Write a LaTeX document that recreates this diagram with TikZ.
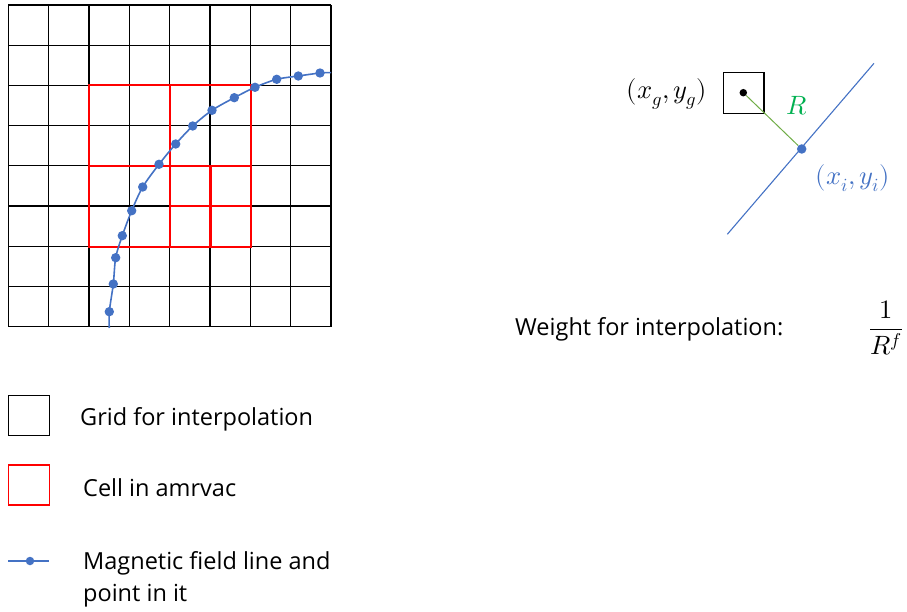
\documentclass[tikz,border=0pt]{standalone}
\usepackage{amsmath}
\usepackage{unicode-math}
\setmainfont{Open Sans}
\setmathfont{Latin Modern Math}
\definecolor{fblue}{HTML}{4472C4}
\definecolor{cred}{HTML}{FF0000}
\definecolor{rgreen}{HTML}{70AD47}
\definecolor{lgreen}{HTML}{00B050}
\begin{document}
\begin{tikzpicture}[x=1pt,y=-1pt,
  gridline/.style={black, line width=1.2pt},
  cellline/.style={cred, line width=2.1pt},
  fieldline/.style={fblue, line width=1.6pt},
  fdot/.style={circle, fill=fblue, inner sep=0pt, minimum size=9.4pt},
  lbl/.style={anchor=west, inner sep=0pt, font=\fontsize{23.5}{32}\selectfont},
  mth/.style={inner sep=0pt, font=\fontsize{26.5}{30}\selectfont}]
\useasboundingbox (0,0) rectangle (907,612);
% grid
\foreach \i in {0,...,8} {
  \draw[gridline] ({8.3+40.34*\i},5) -- ({8.3+40.34*\i},326.7);
  \draw[gridline] (8.3,{5+40.21*\i}) -- (331,{5+40.21*\i});
}
% amrvac cells
\draw[cellline] (89.0,85.4) rectangle (251.0,246.6);
\draw[cellline] (170.0,85.4) -- (170.0,246.6);
\draw[cellline] (89.0,166.0) -- (251.0,166.0);
\draw[cellline] (210.5,166.0) -- (210.5,246.6);
\draw[cellline] (170.0,206.3) -- (251.0,206.3);
% field line
\draw[fieldline] plot[smooth, tension=0.5] coordinates {(109.3,328) (109.3,311.7) (113.3,284) (115.7,257.7) (122.3,235.7) (131.7,210.7) (142.7,187) (159,164.3) (175.7,144) (192.7,126) (212,110.3) (234.3,97.7) (255,87.3) (276.7,79.3) (298.3,76) (320,73) (331,72.6)};
\foreach \p [count=\k] in {(109.3,311.7),(113.3,284),(115.7,257.7),(122.3,235.7),(131.7,210.7),(142.7,187),(159,164.3),(175.7,144),(192.7,126),(212,110.3),(234.3,97.7),(255,87.3),(276.7,79.3),(298.3,76),(320,73)}
  \node[fdot] (p\k) at \p {};
% right: weight illustration
\draw[black, line width=1.3pt] (723.3,72.7) rectangle (764,113.3);
\coordinate (lineA) at (727.3,234.3);
\coordinate (lineB) at (874,63.3);
\draw[fblue, line width=1.1pt] (lineA) -- (lineB);
\node[circle, fill=black, inner sep=0pt, minimum size=7.5pt] (g) at (743.3,92.7) {};
\node[fdot, minimum size=9.5pt] (pi) at (801.7,149) {};
\draw[rgreen, line width=1pt] (g) -- (pi);
\node[mth] (xg) at (667,94) {$(x_g,y_g)$};
\node[mth, text=lgreen] (R) at (797,106) {$R$};
\node[mth, text=fblue] (xi) at (853,178) {$(x_i,y_i)$};
% weight
\node[lbl] (wt) at (515,329) {Weight for interpolation:};
\node[mth] (frac) at (886,328) {$\dfrac{1}{R^f}$};
% legend
\draw[black, line width=1.3pt] (8.3,395.7) rectangle (49.3,435.7);
\node[lbl] (lg1) at (80,419) {Grid for interpolation};
\draw[cred, line width=1.3pt] (8.3,465) rectangle (49.3,505);
\node[lbl] (lg2) at (83,488) {Cell in amrvac};
\coordinate (la) at (8.3,561);
\coordinate (lb) at (49.3,561);
\draw[fieldline] (la) -- (lb);
\node[fdot, minimum size=8.5pt] (ld) at (30,561) {};
\node[lbl] (lg3) at (83,563) {Magnetic field line and};
\node[lbl] (lg4) at (83,596) {point in it};
\end{tikzpicture}
\end{document}
